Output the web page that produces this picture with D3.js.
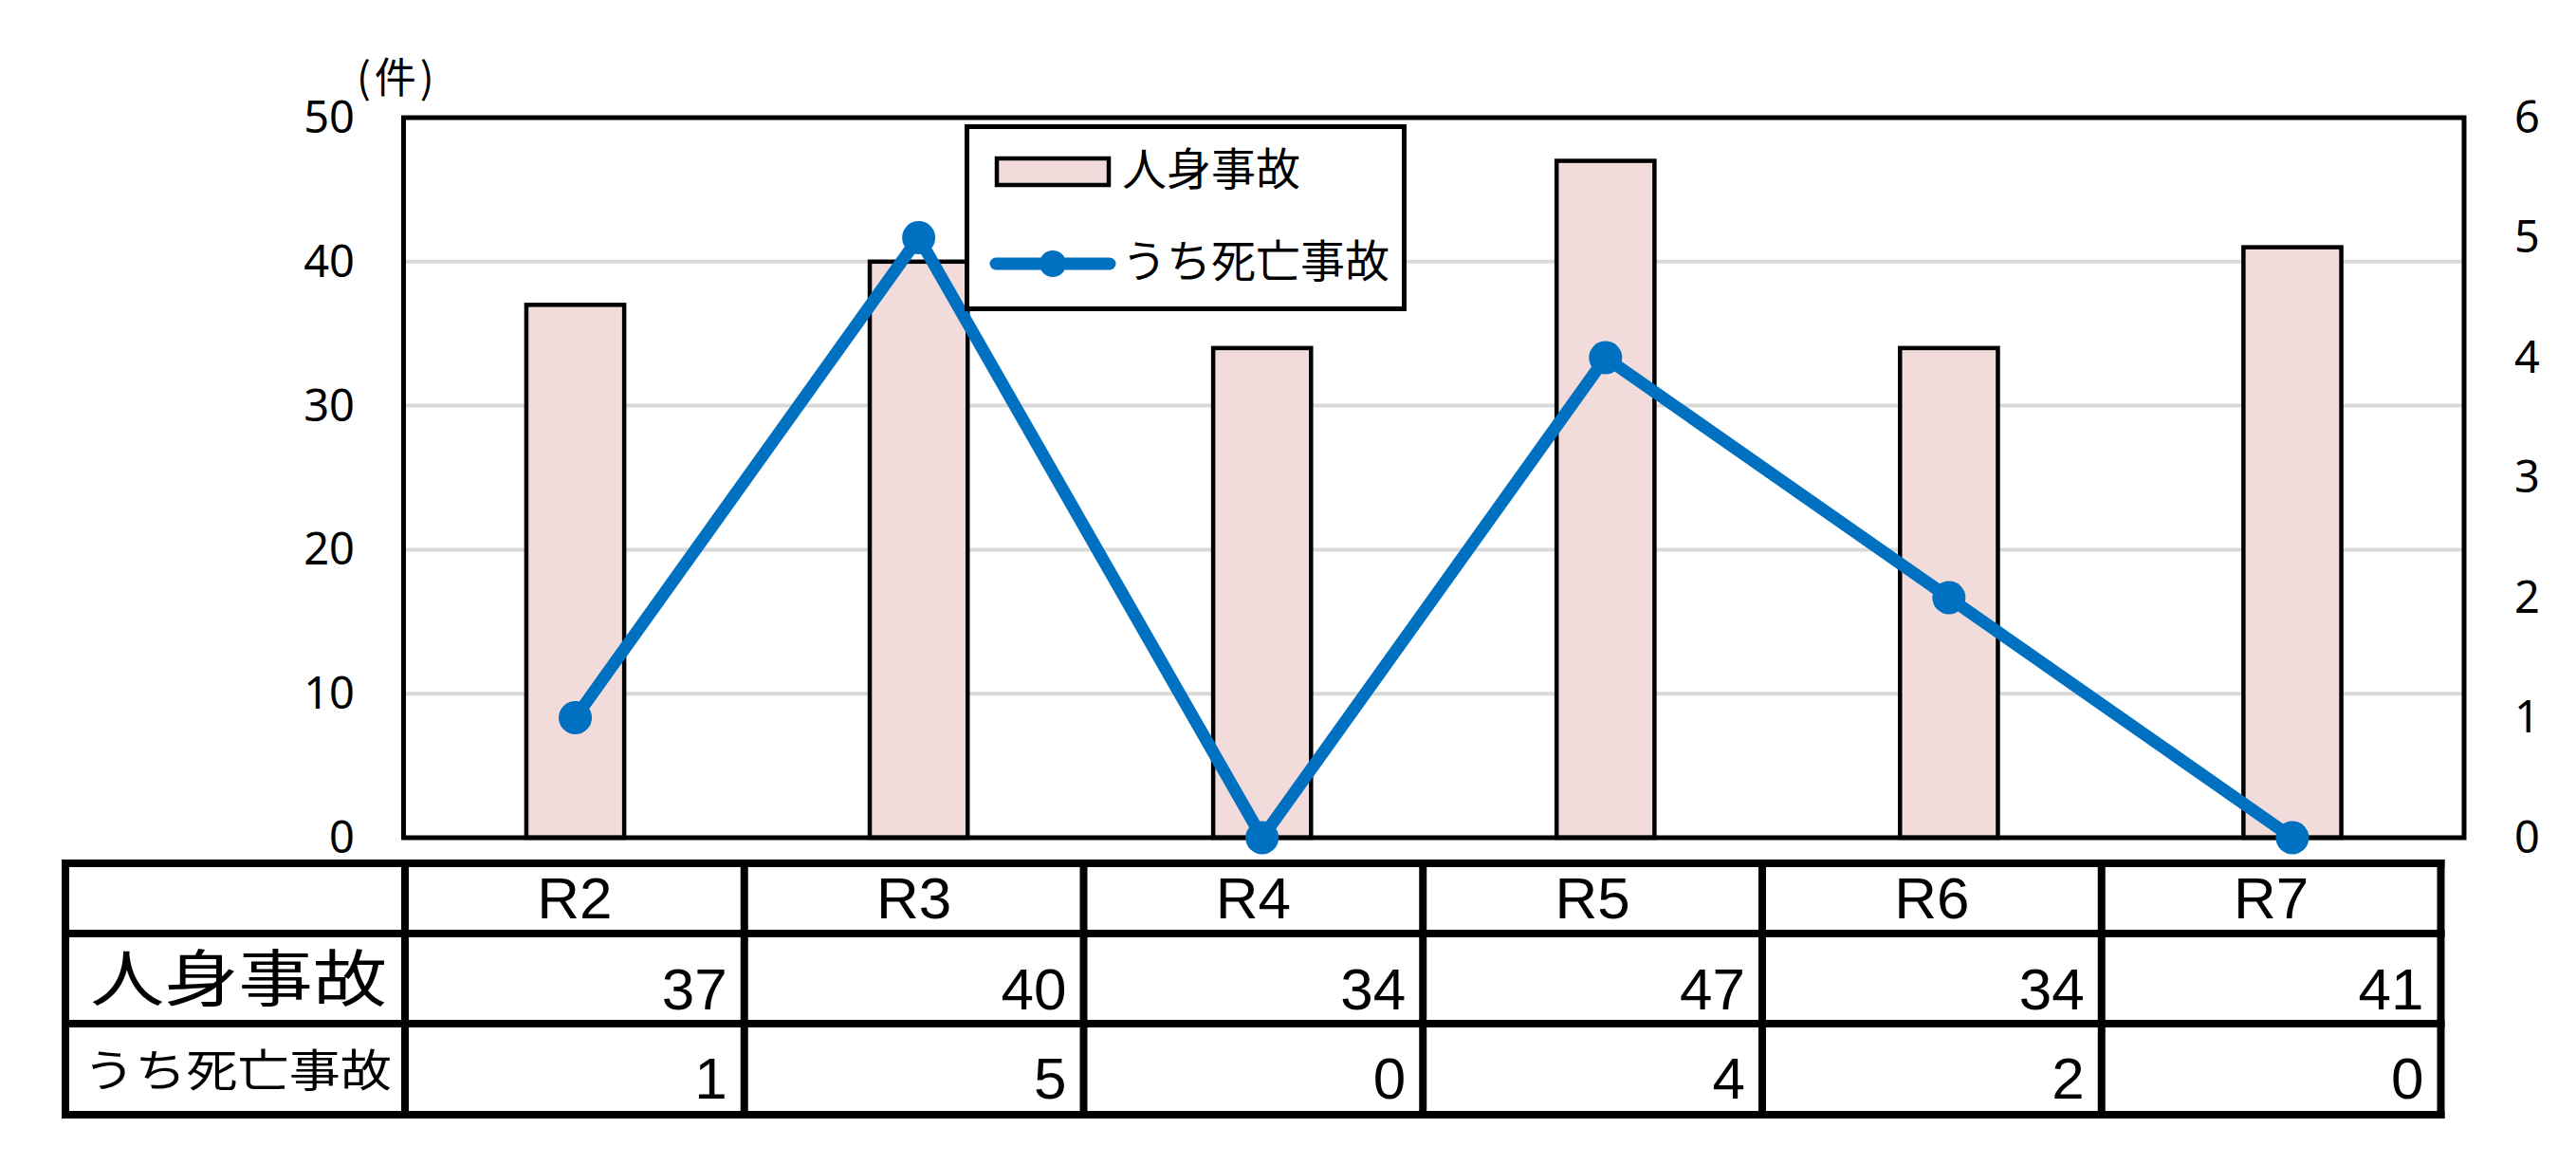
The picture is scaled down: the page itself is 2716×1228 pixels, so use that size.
<!DOCTYPE html>
<html lang="ja">
<head>
  <meta charset="utf-8">
  <title>人身事故・うち死亡事故</title>
  <script src="https://d3js.org/d3.v7.min.js"></script>
  <style>
    body {
      margin: 0;
      padding: 0;
      background: #fff;
    }
    svg {
      display: block;
    }
    .num {
      font-family: "Noto Sans", "DejaVu Sans", sans-serif;
      fill: #000;
    }
    .jp {
      font-family: "Noto Sans CJK JP", "Noto Sans CJK SC", sans-serif;
      fill: #000;
    }
    .cell {
      font-family: "Liberation Sans", Arial, sans-serif;
      fill: #000;
    }
  </style>
</head>
<body>
  <div id="chart"></div>

  <script>
    // Data
    const years = ["R2", "R3", "R4", "R5", "R6", "R7"];
    const injuryAccidents = [37, 40, 34, 47, 34, 41];
    const fatalAccidents = [1, 5, 0, 4, 2, 0];
    const leftTicks = [0, 10, 20, 30, 40, 50];
    const rightTicks = [0, 1, 2, 3, 4, 5, 6];
    const seriesNames = ["人身事故", "うち死亡事故"];
    const unitLabel = "(件)";

    const W = 2716, H = 1228;
    const plot = { left: 425.5, right: 2598, top: 124, bottom: 883 };
    const barFill = "#f2dcdb";
    const lineColor = "#0070c0";

    const svg = d3.select("#chart")
      .append("svg")
      .attr("width", W)
      .attr("height", H)
      .attr("viewBox", `0 0 ${W} ${H}`);

    svg.append("rect")
      .attr("width", W)
      .attr("height", H)
      .attr("fill", "#fff");

    // Scales
    const x = d3.scaleBand()
      .domain(years)
      .range([plot.left, plot.right])
      .padding(0);

    const yLeft = d3.scaleLinear()
      .domain([0, 50])
      .range([plot.bottom, plot.top]);

    const yRight = d3.scaleLinear()
      .domain([0, 6])
      .range([plot.bottom, plot.top]);

    const barW = x.bandwidth() * 0.285;

    // Gridlines
    svg.append("g")
      .selectAll("line")
      .data(leftTicks.filter(t => t > 0 && t < 50))
      .join("line")
      .attr("x1", plot.left)
      .attr("x2", plot.right)
      .attr("y1", d => yLeft(d))
      .attr("y2", d => yLeft(d))
      .attr("stroke", "#d9d9d9")
      .attr("stroke-width", 4);

    // Bars
    svg.append("g")
      .selectAll("rect")
      .data(years)
      .join("rect")
      .attr("x", d => x(d) + x.bandwidth() / 2 - barW / 2)
      .attr("y", (d, i) => yLeft(injuryAccidents[i]))
      .attr("width", barW)
      .attr("height", (d, i) => yLeft(0) - yLeft(injuryAccidents[i]))
      .attr("fill", barFill)
      .attr("stroke", "#000")
      .attr("stroke-width", 4.5);

    // Plot frame
    svg.append("rect")
      .attr("x", plot.left)
      .attr("y", plot.top)
      .attr("width", plot.right - plot.left)
      .attr("height", plot.bottom - plot.top)
      .attr("fill", "none")
      .attr("stroke", "#000")
      .attr("stroke-width", 5);

    // Left axis labels
    svg.append("g")
      .selectAll("text")
      .data(leftTicks)
      .join("text")
      .attr("class", "num")
      .attr("x", 374)
      .attr("y", d => yLeft(d))
      .attr("dy", "0.34em")
      .attr("text-anchor", "end")
      .style("font-size", "47px")
      .text(d => d);

    // Right axis labels
    svg.append("g")
      .selectAll("text")
      .data(rightTicks)
      .join("text")
      .attr("class", "num")
      .attr("x", 2651)
      .attr("y", d => yRight(d))
      .attr("dy", "0.34em")
      .attr("text-anchor", "start")
      .style("font-size", "47px")
      .text(d => d);

    // Unit label
    svg.append("text")
      .attr("class", "jp")
      .attr("x", 376)
      .attr("y", 82)
      .attr("dy", "0.36em")
      .style("font-size", "44px")
      .style("letter-spacing", "4px")
      .text(unitLabel);

    // Line series
    const line = d3.line()
      .x((d, i) => x(years[i]) + x.bandwidth() / 2)
      .y(d => yRight(d));

    svg.append("path")
      .datum(fatalAccidents)
      .attr("d", line)
      .attr("fill", "none")
      .attr("stroke", lineColor)
      .attr("stroke-width", 13)
      .attr("stroke-linejoin", "round")
      .attr("stroke-linecap", "round");

    svg.append("g")
      .selectAll("circle")
      .data(fatalAccidents)
      .join("circle")
      .attr("cx", (d, i) => x(years[i]) + x.bandwidth() / 2)
      .attr("cy", d => yRight(d))
      .attr("r", 17.5)
      .attr("fill", lineColor);

    // Legend
    const legend = svg.append("g");
    legend.append("rect")
      .attr("x", 1019.5)
      .attr("y", 133.5)
      .attr("width", 461)
      .attr("height", 192)
      .attr("fill", "#fff")
      .attr("stroke", "#000")
      .attr("stroke-width", 5);

    legend.append("rect")
      .attr("x", 1051)
      .attr("y", 167)
      .attr("width", 118)
      .attr("height", 28)
      .attr("fill", barFill)
      .attr("stroke", "#000")
      .attr("stroke-width", 4.5);

    legend.append("line")
      .attr("x1", 1050)
      .attr("x2", 1170)
      .attr("y1", 278)
      .attr("y2", 278)
      .attr("stroke", lineColor)
      .attr("stroke-width", 13)
      .attr("stroke-linecap", "round");

    legend.append("circle")
      .attr("cx", 1110)
      .attr("cy", 278)
      .attr("r", 14)
      .attr("fill", lineColor);

    legend.selectAll("text.lg")
      .data(seriesNames)
      .join("text")
      .attr("class", "jp lg")
      .attr("x", 1183)
      .attr("y", (d, i) => i === 0 ? 178 : 275)
      .attr("dy", "0.36em")
      .style("font-size", "47px")
      .text(d => d);

    // Data table
    const tx = d3.scaleBand()
      .domain(years)
      .range([427, 2573.5])
      .padding(0);
    const tableLeft = 69;
    const rowLines = [910, 984, 1079, 1175];
    const table = svg.append("g");

    table.selectAll("line.h")
      .data(rowLines)
      .join("line")
      .attr("class", "h")
      .attr("x1", tableLeft - 4)
      .attr("x2", tx.range()[1] + 4)
      .attr("y1", d => d)
      .attr("y2", d => d)
      .attr("stroke", "#000")
      .attr("stroke-width", 8);

    const colLines = [tableLeft].concat(years.map(d => tx(d)), [tx.range()[1]]);
    table.selectAll("line.v")
      .data(colLines)
      .join("line")
      .attr("class", "v")
      .attr("x1", d => d)
      .attr("x2", d => d)
      .attr("y1", rowLines[0] - 4)
      .attr("y2", rowLines[3] + 4)
      .attr("stroke", "#000")
      .attr("stroke-width", 8);

    table.selectAll("text.hdr")
      .data(years)
      .join("text")
      .attr("class", "cell hdr")
      .attr("x", d => tx(d) + tx.bandwidth() / 2)
      .attr("y", 968)
      .attr("text-anchor", "middle")
      .style("font-size", "62px")
      .text(d => d);

    table.selectAll("text.v1")
      .data(injuryAccidents)
      .join("text")
      .attr("class", "cell v1")
      .attr("x", (d, i) => tx(years[i]) + tx.bandwidth() - 18)
      .attr("y", 1064)
      .attr("text-anchor", "end")
      .style("font-size", "62px")
      .text(d => d);

    table.selectAll("text.v2")
      .data(fatalAccidents)
      .join("text")
      .attr("class", "cell v2")
      .attr("x", (d, i) => tx(years[i]) + tx.bandwidth() - 18)
      .attr("y", 1158)
      .attr("text-anchor", "end")
      .style("font-size", "62px")
      .text(d => d);

    // Row headers (stretched to fill the cell like the original)
    table.append("text")
      .attr("class", "jp")
      .attr("x", 95)
      .attr("y", 1032)
      .attr("dy", "0.36em")
      .attr("textLength", 313)
      .attr("lengthAdjust", "spacingAndGlyphs")
      .style("font-size", "65px")
      .text(seriesNames[0]);

    table.append("text")
      .attr("class", "jp")
      .attr("x", 88)
      .attr("y", 1128)
      .attr("dy", "0.36em")
      .attr("textLength", 325)
      .attr("lengthAdjust", "spacingAndGlyphs")
      .style("font-size", "47px")
      .text(seriesNames[1]);
  </script>
</body>
</html>
